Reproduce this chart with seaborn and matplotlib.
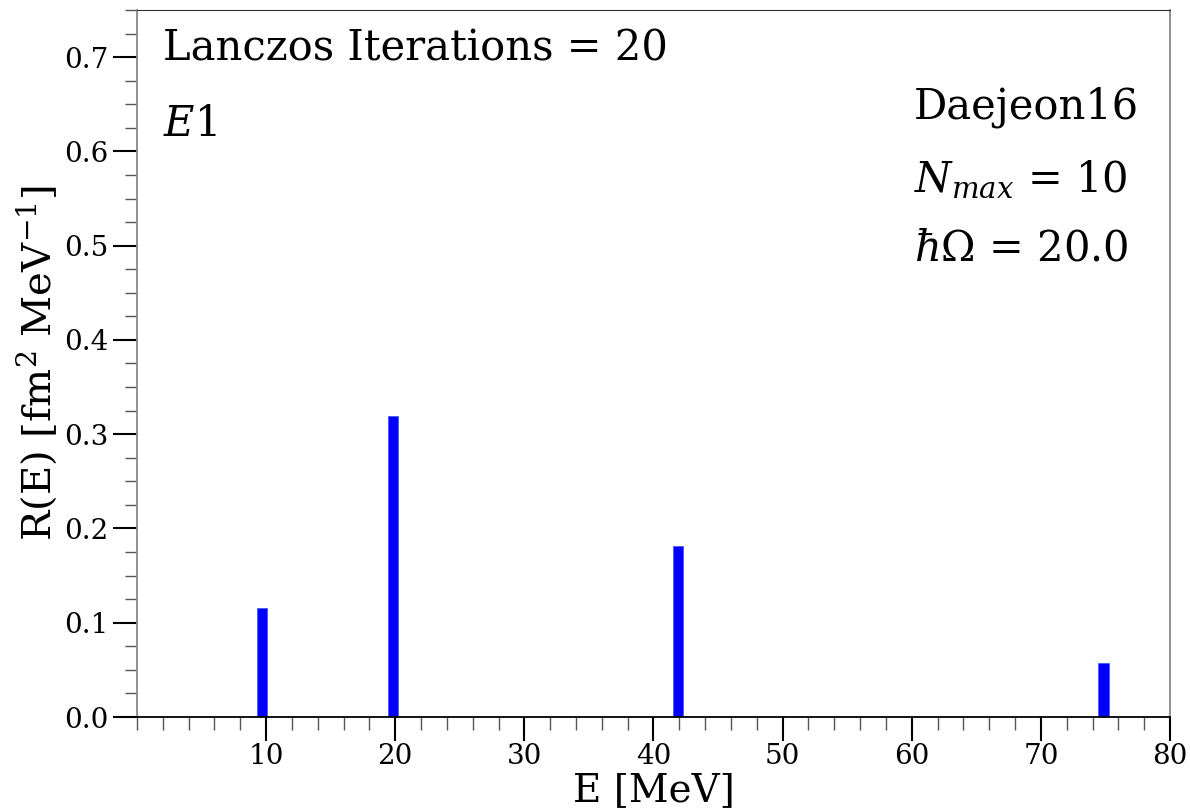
import numpy as np
import pandas as pd
import matplotlib
matplotlib.use("Agg")
import matplotlib.pyplot as plt
import seaborn as sns
from matplotlib.ticker import MultipleLocator, FixedLocator

energies = [9.7, 19.85, 41.9, 74.85]
strengths = [0.116, 0.319, 0.181, 0.057]
xticks = [10, 20, 30, 40, 50, 60, 70, 80]
yticks = [0.0, 0.1, 0.2, 0.3, 0.4, 0.5, 0.6, 0.7]

sns.set_style("ticks")
plt.rcParams["font.family"] = ["DejaVu Serif"]
plt.rcParams["mathtext.fontset"] = "dejavuserif"
plt.rcParams["text.color"] = "black"
plt.rcParams["axes.labelcolor"] = "black"

df = pd.DataFrame({"E": energies, "R": strengths})

fig = plt.figure(figsize=(11.9, 8.11), dpi=100)
ax = fig.add_axes([0.1151, 0.1159, 0.9832 - 0.1151, 0.9877 - 0.1159])

min_gap = np.min(np.diff(sorted(energies)))
sns.barplot(data=df, x="E", y="R", native_scale=True, width=0.8 / min_gap,
            color="#0000ff", saturation=1, ax=ax, edgecolor="#3355ff", linewidth=0.5)

ax.set_xlim(0, 80)
ax.set_ylim(0, 0.75)
ax.xaxis.set_major_locator(FixedLocator(xticks))
ax.xaxis.set_minor_locator(MultipleLocator(2))
ax.yaxis.set_major_locator(FixedLocator(yticks))
ax.yaxis.set_minor_locator(MultipleLocator(0.025))
ax.set_yticklabels([f"{v:.1f}" for v in yticks])
ax.set_xticklabels([str(v) for v in xticks])

ax.tick_params(which="major", direction="out", length=17, width=1.5, labelsize=20,
               colors="black", labelcolor="black")
ax.tick_params(which="minor", direction="out", length=9, width=1.0, colors="#555555")
ax.tick_params(axis="x", which="major", pad=2)

ax.set_xlabel("E [MeV]", fontsize=28, labelpad=1, color="black")
ax.set_ylabel(r"R(E) [fm$^2$ MeV$^{-1}$]", fontsize=29, labelpad=4, color="black")

for side in ["left", "right"]:
    ax.spines[side].set_color("#888888")
    ax.spines[side].set_linewidth(1.3)
ax.spines["top"].set_color("#333333")
ax.spines["bottom"].set_color("black")
ax.spines["bottom"].set_linewidth(1.3)

fs = 30
ax.text(0.025, 0.928, "Lanczos Iterations = 20", transform=ax.transAxes, fontsize=fs,
        va="baseline", color="black")
ax.text(0.025, 0.822, r"$E$1", transform=ax.transAxes, fontsize=fs, va="baseline", color="black")
ax.text(0.752, 0.847, "Daejeon16", transform=ax.transAxes, fontsize=fs, va="baseline", color="black")
ax.text(0.752, 0.744, r"$N_{max}$ = 10", transform=ax.transAxes, fontsize=fs, va="baseline",
        color="black")
ax.text(0.752, 0.645, r"$\hbar\Omega$ = 20.0", transform=ax.transAxes, fontsize=fs, va="baseline",
        color="black")

fig.savefig("out.png", dpi=100)
